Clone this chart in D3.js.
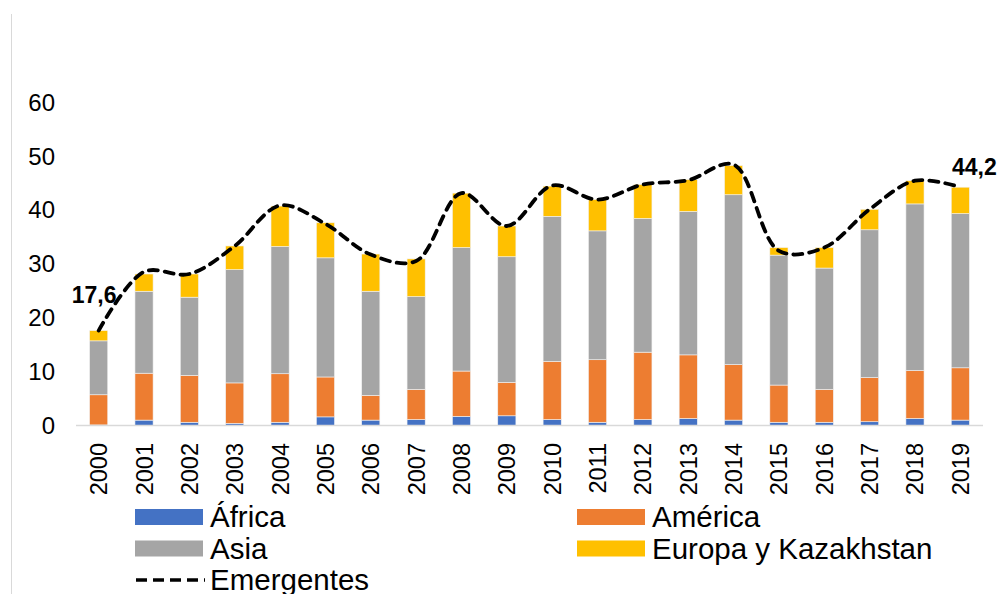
<!DOCTYPE html>
<html>
<head>
<meta charset="utf-8">
<script src="https://cdn.jsdelivr.net/npm/d3@7"></script>
<style>
  html, body { margin: 0; padding: 0; background: #fff; }
  svg { display: block; font-family: "Liberation Sans", Arial, sans-serif; }
</style>
</head>
<body>
<svg id="chart" width="997" height="594"></svg>
<script>
const years = ["2000","2001","2002","2003","2004","2005","2006","2007","2008","2009",
               "2010","2011","2012","2013","2014","2015","2016","2017","2018","2019"];
const africa  = [0.1, 1.0, 0.6, 0.4, 0.6, 1.6, 1.0, 1.1, 1.7, 1.8, 1.1, 0.6, 1.1, 1.3, 1.0, 0.6, 0.6, 0.7, 1.3, 1.0];
const america = [5.6, 8.7, 8.7, 7.5, 9.0, 7.4, 4.6, 5.6, 8.4, 6.2, 10.8, 11.6, 12.5, 11.8, 10.3, 6.9, 6.1, 8.2, 8.9, 9.7];
const asia    = [10.0, 15.2, 14.5, 21.0, 23.6, 22.1, 19.3, 17.2, 22.9, 23.3, 26.9, 23.9, 24.8, 26.6, 31.5, 24.1, 22.5, 27.4, 30.9, 28.6];
const europa  = [1.9, 3.2, 4.3, 4.4, 7.5, 6.5, 6.9, 7.0, 10.1, 5.7, 5.6, 5.8, 6.3, 5.9, 5.4, 1.4, 3.8, 3.8, 4.3, 4.9];
const emergentes = [17.6, 28.5, 28.1, 33.3, 40.8, 37.4, 31.7, 30.5, 43.1, 37.0, 44.5, 41.9, 44.7, 45.5, 48.4, 32.4, 33.0, 40.1, 45.4, 44.2];
const yTicks = [0, 10, 20, 30, 40, 50, 60];
const seriesNames = ["África", "América", "Asia", "Europa y Kazakhstan"];
const seriesColors = ["#4472C4", "#ED7D31", "#A5A5A5", "#FFC000"];
const lineName = "Emergentes";
const labelFirst = "17,6";
const labelLast = "44,2";

const svg = d3.select("#chart");
const FONT = '"Liberation Sans", Arial, sans-serif';

// chart border (left edge visible)
svg.append("line").attr("x1", 11.5).attr("x2", 11.5).attr("y1", 14).attr("y2", 594)
  .attr("stroke", "#d9d9d9").attr("stroke-width", 1);

const x = d3.scaleBand().domain(years).range([76, 983]).paddingInner(0.6).paddingOuter(0.3);
const y = d3.scaleLinear().domain([0, 60]).range([425.5, 102]);

// table for stacking
const table = years.map((yr, i) => ({
  year: yr, s0: africa[i], s1: america[i], s2: asia[i], s3: europa[i]
}));
const stack = d3.stack().keys(["s0", "s1", "s2", "s3"]);
const stacked = stack(table);

// y tick labels
svg.append("g").selectAll("text").data(yTicks).join("text")
  .attr("x", 55).attr("y", d => y(d)).attr("dy", "0.36em")
  .attr("text-anchor", "end").attr("font-size", 24).attr("fill", "#000")
  .attr("font-family", FONT)
  .text(d => d);

// bars
svg.append("g").selectAll("g").data(stacked).join("g")
  .attr("fill", (d, i) => seriesColors[i])
  .selectAll("rect").data(d => d).join("rect")
  .attr("x", d => x(d.data.year))
  .attr("width", x.bandwidth())
  .attr("y", d => y(d[1]))
  .attr("height", d => Math.max(0, y(d[0]) - y(d[1])))
  .attr("stroke", "#f2f2f2").attr("stroke-width", 0.6);

// axis line
svg.append("line").attr("x1", 76).attr("x2", 983).attr("y1", y(0)).attr("y2", y(0))
  .attr("stroke", "#d9d9d9").attr("stroke-width", 1.5);

// year labels (rotated)
svg.append("g").selectAll("text").data(years).join("text")
  .attr("transform", d => `translate(${x(d) + x.bandwidth() / 2 + 8.5},443) rotate(-90)`)
  .attr("text-anchor", "end").attr("font-size", 23.5).attr("fill", "#000")
  .attr("font-family", FONT)
  .text(d => d);

// Emergentes line
const line = d3.line()
  .x((d, i) => x(years[i]) + x.bandwidth() / 2)
  .y(d => y(d))
  .curve(d3.curveCatmullRom.alpha(0.5));
svg.append("path").datum(emergentes)
  .attr("d", line)
  .attr("fill", "none").attr("stroke", "#000").attr("stroke-width", 3.8)
  .attr("stroke-dasharray", "9,7").attr("stroke-linecap", "round");

// data labels
const cx0 = x(years[0]) + x.bandwidth() / 2;
const cxN = x(years[years.length - 1]) + x.bandwidth() / 2;
svg.append("text").attr("x", cx0 - 4.5).attr("y", y(emergentes[0]) - 28)
  .attr("text-anchor", "middle").attr("font-size", 23).attr("font-weight", "bold")
  .attr("font-family", FONT).text(labelFirst);
svg.append("text").attr("x", cxN + 14).attr("y", y(emergentes[emergentes.length - 1]) - 12)
  .attr("text-anchor", "middle").attr("font-size", 23).attr("font-weight", "bold")
  .attr("font-family", FONT).text(labelLast);

// legend
const legendItems = [
  { name: seriesNames[0], color: seriesColors[0], sx: 135, row: 0 },
  { name: seriesNames[1], color: seriesColors[1], sx: 577, row: 0 },
  { name: seriesNames[2], color: seriesColors[2], sx: 135, row: 1 },
  { name: seriesNames[3], color: seriesColors[3], sx: 577, row: 1 }
];
const rowY = [517, 548.5, 580];
const lg = svg.append("g");
legendItems.forEach(it => {
  lg.append("rect").attr("x", it.sx).attr("y", rowY[it.row] - 8).attr("width", 68).attr("height", 16)
    .attr("fill", it.color);
  lg.append("text").attr("x", it.sx + 75).attr("y", rowY[it.row] + 10)
    .attr("font-size", 29.5).attr("font-family", FONT).attr("fill", "#000").text(it.name);
});
lg.append("line").attr("x1", 136).attr("x2", 205).attr("y1", rowY[2]).attr("y2", rowY[2])
  .attr("stroke", "#000").attr("stroke-width", 3.5).attr("stroke-dasharray", "11,6");
lg.append("text").attr("x", 210).attr("y", rowY[2] + 10)
  .attr("font-size", 29.5).attr("font-family", FONT).attr("fill", "#000").text(lineName);
</script>
</body>
</html>
